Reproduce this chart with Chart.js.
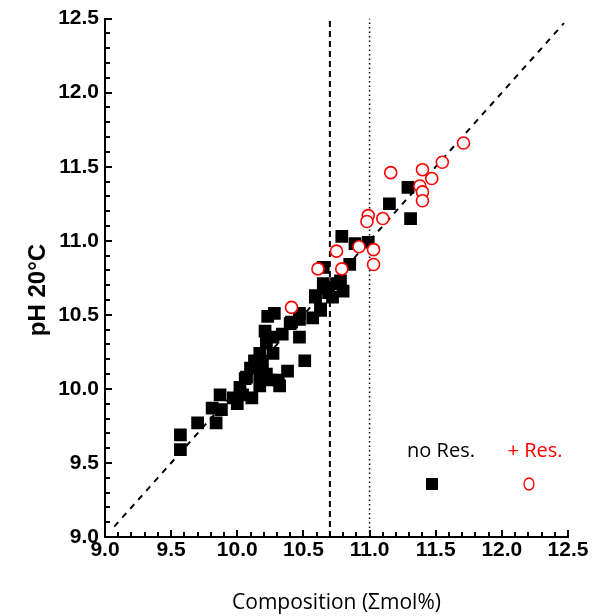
<!DOCTYPE html>
<html>
<head>
<meta charset="utf-8">
<script src="https://cdn.jsdelivr.net/npm/chart.js@4.4.1/dist/chart.umd.min.js"></script>
<style>
  html, body { margin: 0; padding: 0; background: #fff; }
  #wrap { width: 610px; height: 616px; }
</style>
</head>
<body>
<div id="wrap"><canvas id="phChart" width="610" height="616"></canvas></div>
<script>
// composition (sum mol%) and pH at 20 °C
const noResX = [9.57, 9.57, 9.70, 9.84, 9.81, 9.87, 9.88, 9.97, 10.00, 10.02, 10.04, 10.07, 10.10, 10.17,
  10.19, 10.17, 10.22, 10.25, 10.31, 10.32, 10.17, 10.27, 10.22, 10.27, 10.34, 10.28, 10.40, 10.41,
  10.47, 10.47, 10.51, 10.38, 10.57, 10.59, 10.63, 10.66, 10.47, 10.63, 10.72, 10.69, 10.59, 10.65,
  10.78, 10.65, 10.85, 10.79, 10.89, 10.99, 11.15, 11.29, 11.31, 10.80, 10.75, 10.11, 10.06, 10.13,
  10.21, 10.23];
const noResY = [9.69, 9.59, 9.77, 9.77, 9.87, 9.96, 9.86, 9.94, 9.90, 10.01, 9.96, 10.08, 10.14, 10.10,
  10.17, 10.02, 10.10, 10.06, 10.06, 10.02, 10.24, 10.24, 10.31, 10.35, 10.37, 10.51, 10.44, 10.45,
  10.47, 10.35, 10.19, 10.12, 10.48, 10.62, 10.53, 10.68, 10.51, 10.54, 10.62, 10.65, 10.63, 10.71,
  10.73, 10.82, 10.84, 11.03, 10.98, 10.99, 11.25, 11.36, 11.15, 10.66, 10.71, 9.94, 10.07, 10.19,
  10.39, 10.49];

const resX = [10.41, 10.61, 10.75, 10.79, 10.92, 11.03, 11.03, 10.99, 10.98, 11.10, 11.16, 11.40,
  11.47, 11.38, 11.40, 11.40, 11.55, 11.71];
const resY = [10.55, 10.81, 10.93, 10.81, 10.96, 10.94, 10.84, 11.17, 11.13, 11.15, 11.46, 11.48,
  11.42, 11.37, 11.33, 11.27, 11.53, 11.66];

const fitLine = [[9.07, 9.07], [12.47, 12.47]];
const dashedX = 10.7;
const dottedX = 11.0;

const axisMin = 9.0;
const axisMax = 12.5;
const tickLabels = ["9.0", "9.5", "10.0", "10.5", "11.0", "11.5", "12.0", "12.5"];

const toPoints = (xs, ys) => xs.map((x, i) => ({ x: x, y: ys[i] }));

// inward major/minor ticks, rotated y title and legend (text above its marker)
const decor = {
    id: "decor",
    afterDraw(chart) {
        const ctx = chart.ctx;
        const a = chart.chartArea;
        const span = axisMax - axisMin;
        ctx.save();
        ctx.setLineDash([]);
        ctx.fillStyle = "#000";
        for (let i = 0; i <= 35; i++) {
            const f = (i * 0.1) / span;
            const len = i % 5 === 0 ? 7 : 5;
            const px = Math.round(a.left + f * (a.right - a.left));
            const py = Math.round(a.bottom - f * (a.bottom - a.top));
            ctx.fillRect(px - 1, a.bottom - len, 2, len);
            ctx.fillRect(a.left, py - 1, len, 2);
        }

        ctx.save();
        ctx.translate(38, 290);
        ctx.rotate(-Math.PI / 2);
        ctx.font = "bold 24px 'Liberation Sans'";
        ctx.textAlign = "center";
        ctx.textBaseline = "middle";
        ctx.fillStyle = "#000";
        ctx.fillText("pH 20\u00B0C", 0, 0);
        ctx.restore();

        ctx.font = "20px 'Open Sans'";
        ctx.textAlign = "center";
        ctx.textBaseline = "middle";
        ctx.fillStyle = "#000";
        ctx.fillText("no Res.", 441, 451);
        ctx.fillStyle = "#ff0000";
        ctx.fillText("+ Res.", 535, 451);

        ctx.fillStyle = "#000";
        ctx.fillRect(426, 478, 12, 12);
        ctx.strokeStyle = "#ff0000";
        ctx.lineWidth = 1.3;
        ctx.beginPath();
        ctx.ellipse(529, 484, 5, 6, 0, 0, Math.PI * 2);
        ctx.stroke();
        ctx.restore();
    }
};

new Chart(document.getElementById("phChart"), {
    type: "scatter",
    data: {
        datasets: [
            {
                label: "fit",
                type: "line",
                data: toPoints(fitLine.map(p => p[0]), fitLine.map(p => p[1])),
                borderColor: "#000",
                borderWidth: 2,
                borderDash: [6, 6],
                pointRadius: 0,
                order: 5,
            },
            {
                label: "10.7",
                type: "line",
                data: [{ x: dashedX, y: axisMin }, { x: dashedX, y: axisMax }],
                borderColor: "#000",
                borderWidth: 2,
                borderDash: [6, 4],
                pointRadius: 0,
                order: 6,
            },
            {
                label: "11.0",
                type: "line",
                data: [{ x: dottedX, y: axisMin }, { x: dottedX, y: axisMax }],
                borderColor: "#000",
                borderWidth: 1.5,
                borderDash: [1.5, 3],
                pointRadius: 0,
                order: 6,
            },
            {
                label: "no Res.",
                data: toPoints(noResX, noResY),
                pointStyle: "rect",
                pointRadius: 9,
                backgroundColor: "#000",
                borderColor: "#000",
                borderWidth: 0,
                order: 2,
            },
            {
                label: "+ Res.",
                data: toPoints(resX, resY),
                pointStyle: "circle",
                pointRadius: 6,
                backgroundColor: "#fff",
                borderColor: "#ff0000",
                borderWidth: 1.6,
                order: 1,
            },
        ],
    },
    options: {
        responsive: false,
        animation: false,
        layout: { padding: { top: 17, right: 42, bottom: 0, left: 0 } },
        plugins: {
            legend: { display: false },
            tooltip: { enabled: false },
        },
        scales: {
            x: {
                type: "linear",
                min: axisMin,
                max: axisMax,
                afterFit: (s) => { s.height = 79; },
                afterBuildTicks: (s) => {
                    s.ticks = tickLabels.map(t => ({ value: parseFloat(t) }));
                },
                ticks: {
                    callback: (v) => v.toFixed(1),
                    color: "#000",
                    font: { family: "'Liberation Sans'", size: 21, weight: "bold" },
                    padding: 1,
                    maxRotation: 0,
                },
                grid: { display: false, drawTicks: false },
                border: { display: true, color: "#000", width: 2 },
                title: {
                    display: true,
                    text: "Composition (\u03A3mol%)",
                    color: "#000",
                    font: { family: "'Open Sans'", size: 21 },
                    padding: { top: 1, bottom: 0 },
                },
            },
            y: {
                type: "linear",
                min: axisMin,
                max: axisMax,
                afterFit: (s) => { s.width = 105; },
                afterBuildTicks: (s) => {
                    s.ticks = tickLabels.map(t => ({ value: parseFloat(t) }));
                },
                ticks: {
                    callback: (v) => v.toFixed(1),
                    color: "#000",
                    font: { family: "'Liberation Sans'", size: 21, weight: "bold" },
                    padding: 6,
                },
                grid: { display: false, drawTicks: false },
                border: { display: true, color: "#000", width: 2 },
                title: { display: false },
            },
        },
    },
    plugins: [decor],
});
</script>
</body>
</html>
